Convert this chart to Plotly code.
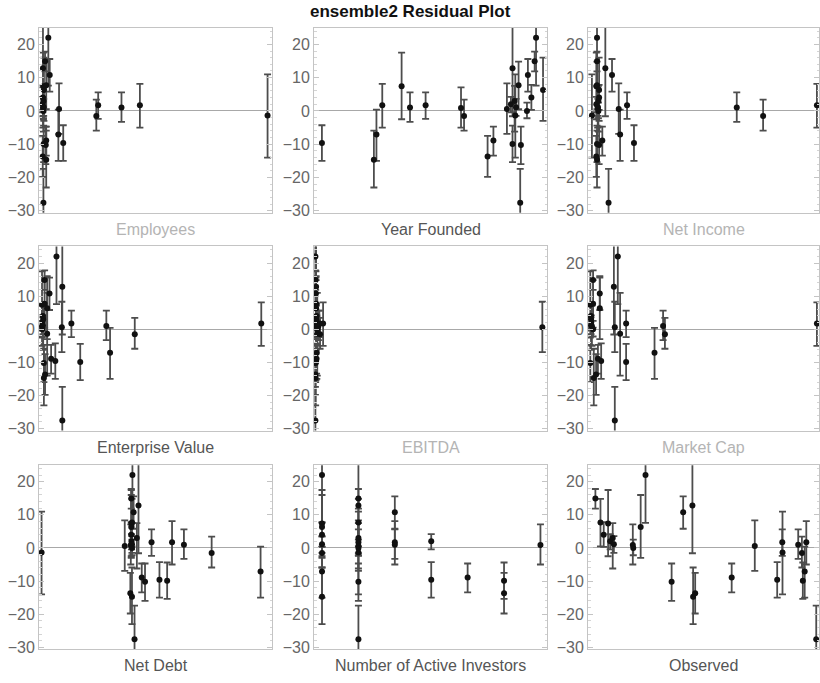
import plotly.graph_objects as go

# Residuals of the ensemble2 model for 27 companies, with the lower/upper
# ends of each residual interval (same company order in every array).
residual = [-9.6, -14.7, -7.1, 1.7, 7.4, 1.0, 1.7, 0.9, -1.5, -13.7, -8.9, 0.6, 2.0, 12.8,
            -9.9, 3.0, 1.1, -1.4, 7.7, -10.2, -27.6, 0.0, 10.8, 4.0, 14.9, 22.0, 6.3]
upper = [-4.3, -5.9, 0.4, 8.1, 17.5, 5.6, 5.6, 7.1, 3.4, -7.5, -4.7, 8.3, 4.2, 34.0,
         -4.4, 7.5, 3.6, 11.0, 14.8, -4.7, -17.4, 2.5, 15.6, 7.8, 17.8, 32.0, 16.0]
lower = [-15.0, -23.0, -15.0, -5.0, -2.5, -3.3, -2.4, -5.0, -5.9, -19.8, -13.4, -6.9, -0.4, -1.6,
         -15.4, -6.2, -1.5, -14.0, 0.5, -16.0, -38.0, -2.2, 5.8, 0.3, 11.9, 7.6, -3.0]

# Feature values (rescaled to 0-100 for display) in the same company order
employees = [10.4, 3.1, 8.3, 43.3, 1.9, 35.4, 25.4, 1.7, 24.6, 1.6, 3.1, 8.6, 1.6, 1.7,
             2.0, 1.9, 2.0, 98.1, 3.1, 2.9, 1.9, 1.9, 4.6, 1.7, 2.6, 4.0, 2.1]
year_founded = [3.4, 25.7, 26.8, 29.3, 37.6, 41.2, 47.9, 63.1, 64.4, 74.5, 77.0, 82.8, 84.5, 85.2,
                85.2, 86.1, 86.7, 86.4, 87.8, 88.8, 88.5, 91.4, 91.8, 93.3, 94.7, 95.3, 98.3]
net_income = [19.9, 3.9, 13.9, 99.1, 3.6, 64.4, 16.9, 4.2, 75.8, 3.6, 6.2, 13.3, 3.6, 7.5,
              3.9, 4.5, 4.3, 1.7, 3.9, 4.8, 8.9, 4.5, 10.4, 4.8, 3.9, 3.9, 4.8]
enterprise_value = [7.0, 2.1, 30.5, 95.4, 1.3, 28.9, 13.9, 1.3, 41.1, 2.6, 5.2, 9.8, 1.5, 10.0,
                    17.7, 1.8, 1.7, 3.5, 2.4, 2.1, 10.0, 1.4, 4.5, 1.7, 2.4, 7.5, 3.5]
ebitda = [0.9, 0.7, 1.2, 3.9, 0.8, 1.9, 2.3, 1.0, 2.6, 0.6, 1.1, 98.0, 1.2, 0.9,
          0.8, 1.0, 1.3, 1.4, 0.9, 0.7, 0.6, 1.5, 0.8, 1.1, 0.7, 0.6, 0.9]
market_cap = [5.7, 2.5, 28.8, 99.1, 1.0, 32.5, 16.5, 1.7, 33.3, 3.5, 4.3, 11.6, 1.4, 11.2,
              16.5, 1.3, 1.3, 13.9, 2.2, 1.0, 11.6, 2.2, 5.1, 1.3, 2.2, 12.9, 5.1]
net_debt = [51.7, 39.9, 95.1, 57.1, 39.6, 62.2, 48.3, 39.4, 74.1, 39.2, 44.1, 36.8, 39.7, 42.7,
            55.0, 42.0, 39.9, 1.1, 39.9, 45.5, 41.0, 39.9, 40.6, 39.6, 39.6, 40.1, 39.6]
active_investors = [4, 1, 1, 3, 1, 3, 2, 7, 1, 6, 5, 2, 4, 2,
                    6, 2, 1, 2, 2, 2, 2, 2, 3, 1, 2, 1, 1]
observed = [81.9, 45.5, 93.8, 94.5, 8.7, 91.0, 84.1, 19.4, 92.6, 46.4, 62.2, 72.2, 9.6, 45.2,
            93.0, 10.7, 11.2, 84.2, 5.4, 36.2, 98.8, 19.6, 41.2, 6.8, 3.2, 24.9, 22.8]

panel_titles = ["Employees", "Year Founded", "Net Income",
                "Enterprise Value", "EBITDA", "Market Cap",
                "Net Debt", "Number of Active Investors", "Observed"]
panel_x = [employees, year_founded, net_income,
           enterprise_value, ebitda, market_cap,
           net_debt, active_investors, observed]
# titles of features shown on a log-scaled fit are rendered dimmed
dimmed = {"Employees", "Net Income", "EBITDA", "Market Cap"}
y_ticks = [-30, -20, -10, 0, 10, 20]

W, H = 820, 683
col_px = [(39, 272), (314, 547), (588, 819)]
row_px = [(28, 215), (249, 435), (470, 656)]

err_plus = [u - r for u, r in zip(upper, residual)]
err_minus = [r - l for r, l in zip(residual, lower)]

fig = go.Figure()
layout = dict(
    width=W, height=H,
    margin=dict(l=0, r=0, t=0, b=0),
    paper_bgcolor="white", plot_bgcolor="white",
    showlegend=False,
    font=dict(family="Liberation Sans, Arial, sans-serif", color="#666666"),
)
annotations = [dict(text="<b>ensemble2 Residual Plot</b>", x=0.5, y=1 - 12 / H,
                    xref="paper", yref="paper", showarrow=False,
                    font=dict(size=17, color="#111111"), xanchor="center", yanchor="middle")]

for idx, (title, xs) in enumerate(zip(panel_titles, panel_x)):
    r, c = divmod(idx, 3)
    n = idx + 1
    xa = "x" if n == 1 else f"x{n}"
    ya = "y" if n == 1 else f"y{n}"
    x0, x1 = col_px[c]
    y0, y1 = row_px[r]
    fig.add_trace(go.Scatter(
        x=xs, y=residual, mode="markers", xaxis=xa, yaxis=ya,
        marker=dict(color="#111111", size=6),
        error_y=dict(type="data", symmetric=False, array=err_plus, arrayminus=err_minus,
                     color="#4d4d4d", thickness=1.8, width=3.5),
    ))
    xr = [0.78, 7.18] if title == "Number of Active Investors" else [0, 100]
    layout["xaxis" if n == 1 else f"xaxis{n}"] = dict(
        domain=[x0 / W, x1 / W], range=xr, anchor=ya,
        showgrid=False, zeroline=False, showticklabels=False, ticks="",
        showline=True, mirror=True, linecolor="#c4c4c4", linewidth=1,
    )
    layout["yaxis" if n == 1 else f"yaxis{n}"] = dict(
        domain=[1 - y1 / H, 1 - y0 / H], range=[-30.6, 25], anchor=xa,
        showgrid=False, zeroline=True, zerolinecolor="#a8a8a8", zerolinewidth=1,
        tickvals=y_ticks, ticks="inside", ticklen=5, tickcolor="#c4c4c4",
        minor=dict(ticks="inside", ticklen=2.5, dtick=2, tickcolor="#d4d4d4"),
        tickfont=dict(size=16, color="#666666"),
        showline=True, mirror="allticks", linecolor="#c4c4c4", linewidth=1,
    )
    title_y = {0: 232, 1: 452, 2: 672}[r]
    annotations.append(dict(
        text=title, x=(x0 + x1) / 2 / W, y=1 - title_y / H, xref="paper", yref="paper",
        showarrow=False, xanchor="center", yanchor="middle",
        font=dict(size=16, color="#b4b4b4" if title in dimmed else "#555555"),
    ))

layout["annotations"] = annotations
fig.update_layout(**layout)
fig.write_html("out.html")
